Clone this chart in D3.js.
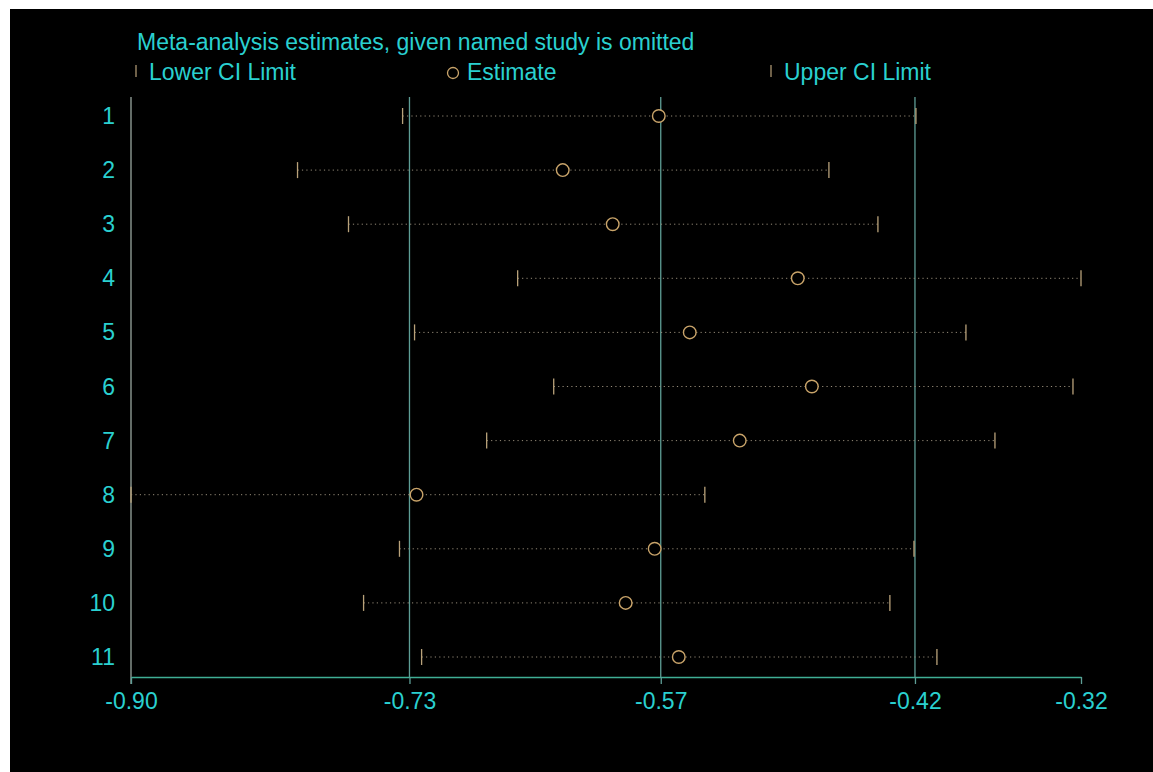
<!DOCTYPE html>
<html><head><meta charset="utf-8">
<script src="https://cdn.jsdelivr.net/npm/d3@7"></script>
<style>html,body{margin:0;padding:0;background:#fff;}svg{display:block;}</style>
</head><body>
<script>
const studies = ["1","2","3","4","5","6","7","8","9","10","11"];
const lowerCI = [-0.7339,-0.7980,-0.7669,-0.6637,-0.7266,-0.6417,-0.6826,-0.8996,-0.7358,-0.7577,-0.7223];
const estimate = [-0.5776,-0.6362,-0.6057,-0.4928,-0.5587,-0.4842,-0.5282,-0.7254,-0.5801,-0.5978,-0.5654];
const upperCI = [-0.4207,-0.4738,-0.4439,-0.3200,-0.3902,-0.3249,-0.3725,-0.5495,-0.4219,-0.4366,-0.4079];
const tickValues = [-0.8996,-0.7297,-0.5764,-0.4213,-0.3200];
const tickLabels = ["-0.90","-0.73","-0.57","-0.42","-0.32"];
const refLines = [-0.7297,-0.5764,-0.4213];
const titleText = "Meta-analysis estimates, given named study is omitted";
const legendLabels = ["Lower CI Limit","Estimate","Upper CI Limit"];

const W=1153,H=772;
const cyan="#2ad0d0", tan="#b9a27a", circ="#c9a46a", dot="#948a78", grid="#5e9e96", axisC="#3fae95";
const svg=d3.select("body").append("svg").attr("width",W).attr("height",H);
svg.append("rect").attr("width",W).attr("height",H).attr("fill","#fff");
svg.append("rect").attr("x",10).attr("y",9).attr("width",W-10).attr("height",H-9).attr("fill","#000");

const x=d3.scaleLinear().domain([-0.8996,-0.32]).range([131,1081]);
const y=d3.scalePoint().domain(studies).range([116,657]);
const font="Liberation Sans, Arial, sans-serif";
const fs=23;

// title
svg.append("text").attr("x",137).attr("y",50).attr("fill",cyan).attr("font-family",font).attr("font-size",fs).text(titleText);
// legend
const lg=svg.append("g");
const legY=72;
lg.append("line").attr("x1",136).attr("x2",136).attr("y1",legY-7).attr("y2",legY+5).attr("stroke",tan).attr("stroke-width",1.2);
lg.append("text").attr("x",149).attr("y",legY+8).attr("fill",cyan).attr("font-family",font).attr("font-size",fs).text(legendLabels[0]);
lg.append("circle").attr("cx",453).attr("cy",legY+1).attr("r",5.5).attr("fill","none").attr("stroke",circ).attr("stroke-width",1.3);
lg.append("text").attr("x",467).attr("y",legY+8).attr("fill",cyan).attr("font-family",font).attr("font-size",fs).text(legendLabels[1]);
lg.append("line").attr("x1",771).attr("x2",771).attr("y1",legY-7).attr("y2",legY+5).attr("stroke",tan).attr("stroke-width",1.2);
lg.append("text").attr("x",784).attr("y",legY+8).attr("fill",cyan).attr("font-family",font).attr("font-size",fs).text(legendLabels[2]);

// reference vertical lines
svg.selectAll(".ref").data(refLines).enter().append("line")
  .attr("x1",d=>x(d)).attr("x2",d=>x(d)).attr("y1",97).attr("y2",677)
  .attr("stroke",grid).attr("stroke-width",1.3);
// left axis line
svg.append("line").attr("x1",x(-0.8996)).attr("x2",x(-0.8996)).attr("y1",97).attr("y2",684).attr("stroke","#9aa8a0").attr("stroke-width",1.3);

// x axis
const xAxis=d3.axisBottom(x).tickValues(tickValues).tickFormat((d,i)=>tickLabels[i]).tickSize(7).tickSizeOuter(0);
const ax=svg.append("g").attr("transform","translate(0,677)").call(xAxis);
ax.select(".domain").attr("stroke",axisC).attr("stroke-width",1.5);
ax.selectAll(".tick line").attr("stroke",grid).attr("stroke-width",1.3);
ax.selectAll(".tick text").attr("fill",cyan).attr("font-family",font).attr("font-size",fs).attr("y",10).attr("dy","0.95em");

// y labels
svg.selectAll(".ylab").data(studies).enter().append("text")
  .attr("x",115).attr("y",d=>y(d)+8).attr("text-anchor","end")
  .attr("fill",cyan).attr("font-family",font).attr("font-size",fs).text(d=>d);

// dotted lines
const rows=studies.map((s,i)=>({s,lo:lowerCI[i],est:estimate[i],hi:upperCI[i]}));
svg.selectAll(".ci").data(rows).enter().append("line")
  .attr("x1",d=>x(d.lo)).attr("x2",d=>x(d.hi)).attr("y1",d=>y(d.s)).attr("y2",d=>y(d.s))
  .attr("stroke",dot).attr("stroke-width",1).attr("stroke-dasharray","1.2,3.2");
// lower/upper ticks
svg.selectAll(".lo").data(rows).enter().append("line")
  .attr("x1",d=>x(d.lo)).attr("x2",d=>x(d.lo)).attr("y1",d=>y(d.s)-8).attr("y2",d=>y(d.s)+8)
  .attr("stroke",tan).attr("stroke-width",1.3);
svg.selectAll(".hi").data(rows).enter().append("line")
  .attr("x1",d=>x(d.hi)).attr("x2",d=>x(d.hi)).attr("y1",d=>y(d.s)-8).attr("y2",d=>y(d.s)+8)
  .attr("stroke",tan).attr("stroke-width",1.3);
svg.selectAll(".est").data(rows).enter().append("circle")
  .attr("cx",d=>x(d.est)).attr("cy",d=>y(d.s)).attr("r",6.3)
  .attr("fill","#000").attr("stroke",circ).attr("stroke-width",1.4);
</script>
</body></html>
